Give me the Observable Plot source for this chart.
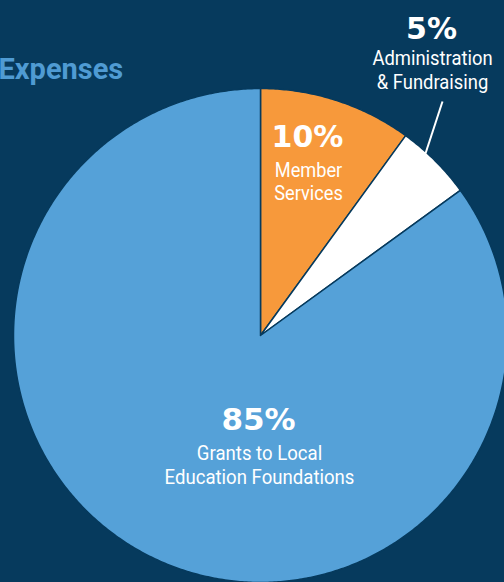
<!DOCTYPE html>
<html><head><meta charset="utf-8">
<script src="https://cdn.jsdelivr.net/npm/d3@7"></script>
<script src="https://cdn.jsdelivr.net/npm/@observablehq/plot@0.6"></script>
<style>html,body{margin:0;padding:0;background:#063a5d;overflow:hidden}</style>
</head><body><div id="chart"></div>
<script>
// ---- data ----
const categories = ["Member Services", "Administration & Fundraising", "Grants to Local Education Foundations"];
const shares = [10, 5, 85];
const percentLabels = ["10%", "5%", "85%"];
const labelLines = [["Member", "Services"], ["Administration", "& Fundraising"], ["Grants to Local", "Education Foundations"]];
const colors = ["#f7993b", "#ffffff", "#55a1d8"];
const title = "Expenses";

// ---- layout ----
const W = 504, H = 582;
const cx = 260, cy = 335, R = 247;
const BG = "#063a5d";
const X = px => (px - cx) / R;
const Y = py => (cy - py) / R;

const arcs = d3.pie().sort(null).value(d => d.value)(categories.map((c, i) => ({category: c, value: shares[i]})));
const pts = [];
for (const a of arcs) {
  const n = Math.max(2, Math.ceil((a.endAngle - a.startAngle) / (Math.PI / 360)));
  pts.push({category: a.data.category, x: 0, y: 0});
  for (let k = 0; k <= n; k++) {
    const t = a.startAngle + (a.endAngle - a.startAngle) * k / n;
    pts.push({category: a.data.category, x: Math.sin(t), y: Math.cos(t)});
  }
  pts.push({category: a.data.category, x: 0, y: 0});
}

const pctFont = {fontFamily: "DejaVu Sans", fontWeight: "bold", fill: "white", lineAnchor: "bottom", textAnchor: "middle"};
const lblFont = {fontFamily: "Roboto", fill: "white", lineAnchor: "bottom", textAnchor: "middle"};
const pctSize = [30, 30, 31];
const bodySize = [20, 20, 21];
const squeeze = [0.91, 0.92, 0.885];
const pctPos = [[307, 146], [431, 38], [258, 429]];
const linePos = [[[308, 176], [308, 199]], [[432, 64], [432, 88]], [[259, 459], [259, 483]]];

const marks = [
  Plot.line(pts, {x: "x", y: "y", z: "category", fill: "category", stroke: BG, strokeWidth: 1.5, curve: "linear"}),
  Plot.link([0], {x1: X(442), y1: Y(101), x2: X(425), y2: Y(153), stroke: "white", strokeWidth: 2}),
  Plot.text([title], {x: X(-2), y: Y(78), text: d => d, fontFamily: "Roboto", fontWeight: "bold", fontSize: 29, fill: "#4f9bd3", textAnchor: "start", lineAnchor: "bottom"})
];
percentLabels.forEach((p, i) => {
  marks.push(Plot.text([p], {x: X(pctPos[i][0]), y: Y(pctPos[i][1]), text: d => d, ...pctFont, fontSize: pctSize[i]}));
  labelLines[i].forEach((s, j) => {
    marks.push(Plot.text([s], {x: X(linePos[i][j][0]), y: Y(linePos[i][j][1]), text: d => d, ...lblFont, fontSize: bodySize[i]}));
  });
});

const chart = Plot.plot({
  width: W, height: H, margin: 0,
  x: {domain: [X(0), X(W)], axis: null},
  y: {domain: [Y(H), Y(0)], axis: null},
  color: {domain: categories, range: colors},
  style: {background: BG, overflow: "hidden"},
  marks
});
document.getElementById("chart").appendChild(chart);
const squeezeOf = new Map();
labelLines.forEach((lines, i) => lines.forEach(s => squeezeOf.set(s, squeeze[i])));
chart.querySelectorAll("text").forEach(t => {
  const f = squeezeOf.get(t.textContent);
  if (!f) return;
  const w = t.getComputedTextLength();
  t.setAttribute("textLength", (w * f).toFixed(1));
  t.setAttribute("lengthAdjust", "spacingAndGlyphs");
});
</script>
</body></html>
